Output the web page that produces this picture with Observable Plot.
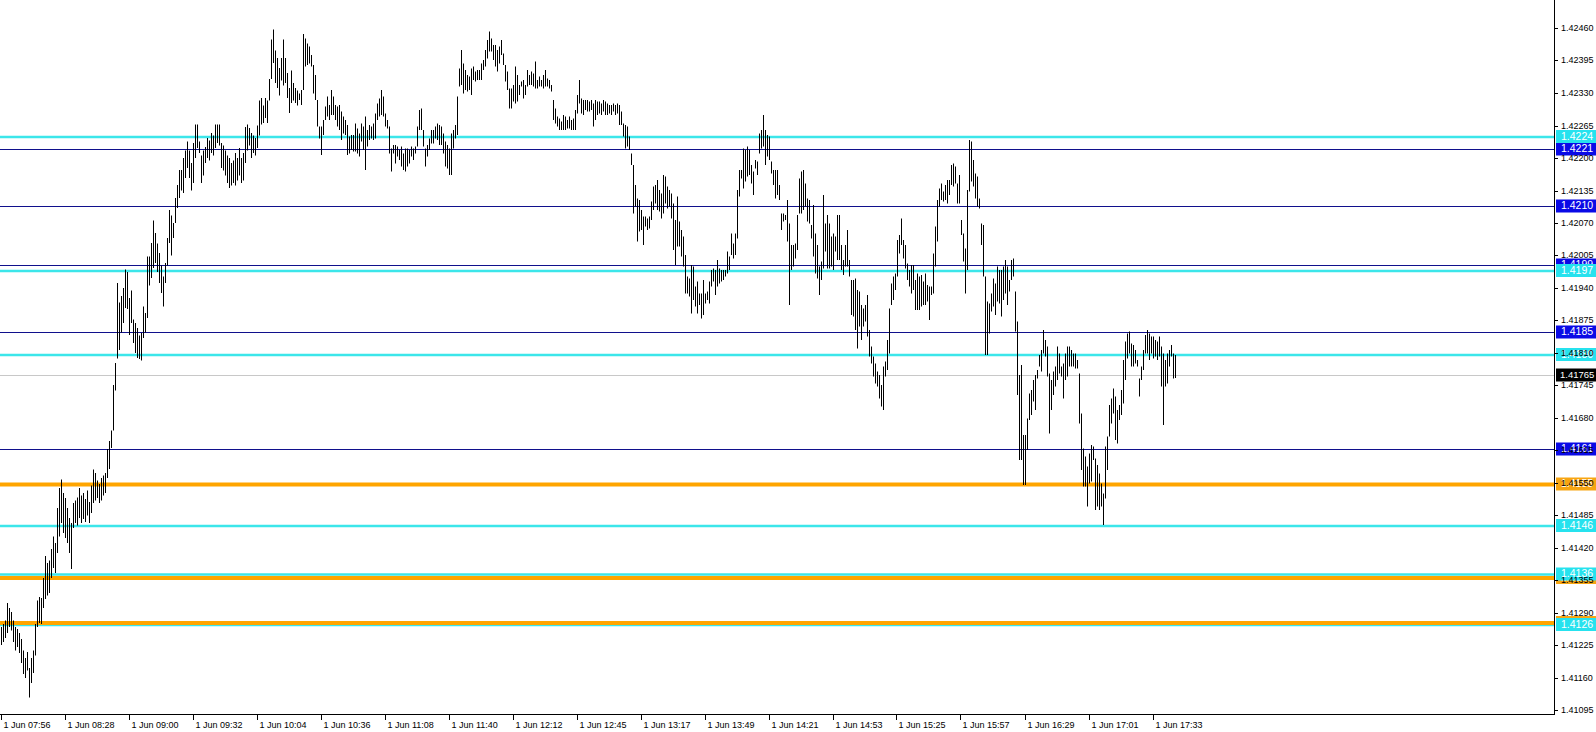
<!DOCTYPE html>
<html><head><meta charset="utf-8">
<script src="https://cdn.jsdelivr.net/npm/d3@7"></script>
<script src="https://cdn.jsdelivr.net/npm/@observablehq/plot@0.6"></script>
<style>html,body{margin:0;padding:0;background:#fff;overflow:hidden}</style>
</head><body><div id="chart"></div>
<script>
// 1-minute bars: low / high prices
const lows = [
1.41226,1.41232,1.41240,1.41250,1.41262,1.41255,1.41232,1.41215,1.41222,1.41210,
1.41190,1.41168,1.41160,1.41175,1.41121,1.41150,1.41170,1.41205,1.41262,1.41270,
1.41268,1.41300,1.41318,1.41325,1.41330,1.41360,1.41380,1.41370,1.41410,1.41443,
1.41470,1.41450,1.41440,1.41430,1.41410,1.41378,1.41460,1.41470,1.41465,1.41480,
1.41470,1.41478,1.41472,1.41485,1.41470,1.41490,1.41510,1.41515,1.41520,1.41510,
1.41515,1.41525,1.41530,1.41560,1.41578,1.41620,1.41655,1.41735,1.41799,1.41816,
1.41851,1.41870,1.41900,1.41898,1.41846,1.41870,1.41830,1.41810,1.41800,1.41798,
1.41795,1.41840,1.41851,1.41880,1.41945,1.41960,1.41980,1.41990,1.41972,1.41950,
1.41930,1.41903,1.41950,1.41985,1.42030,1.42005,1.42040,1.42070,1.42100,1.42120,
1.42135,1.42130,1.42160,1.42180,1.42160,1.42135,1.42150,1.42200,1.42220,1.42210,
1.42150,1.42165,1.42190,1.42200,1.42195,1.42210,1.42205,1.42220,1.42230,1.42225,
1.42180,1.42175,1.42165,1.42150,1.42140,1.42145,1.42150,1.42145,1.42155,1.42165,
1.42150,1.42155,1.42190,1.42215,1.42225,1.42200,1.42210,1.42205,1.42220,1.42245,
1.42267,1.42270,1.42280,1.42270,1.42315,1.42358,1.42390,1.42350,1.42340,1.42325,
1.42355,1.42345,1.42350,1.42320,1.42290,1.42310,1.42315,1.42310,1.42305,
1.42316,1.42306,1.42336,1.42383,1.42386,1.42389,1.42383,1.42329,1.42316,1.42263,
1.42239,1.42206,1.42246,1.42276,1.42283,1.42276,1.42286,1.42286,1.42276,1.42263,
1.42256,1.42236,1.42249,1.42246,1.42206,1.42209,1.42216,1.42213,1.42213,1.42209,
1.42203,1.42233,1.42216,1.42176,1.42223,1.42236,1.42239,1.42236,1.42239,1.42276,
1.42283,1.42286,1.42283,1.42263,1.42259,1.42209,1.42173,1.42209,1.42189,1.42203,
1.42196,1.42183,1.42176,1.42173,1.42183,1.42189,1.42203,1.42196,1.42209,1.42223,
1.42256,1.42256,1.42223,1.42183,1.42203,1.42216,1.42229,1.42229,1.42239,1.42236,
1.42226,1.42226,1.42209,1.42183,1.42179,1.42166,1.42166,1.42219,1.42239,1.42246,
1.42343,1.42346,1.42329,1.42336,1.42333,1.42336,1.42326,1.42356,1.42353,1.42356,
1.42356,1.42356,1.42376,1.42383,1.42399,1.42413,1.42413,1.42396,1.42383,1.42373,
1.42389,1.42406,1.42386,1.42353,1.42336,1.42299,1.42299,1.42313,1.42309,1.42313,
1.42326,1.42343,1.42319,1.42326,1.42343,1.42346,1.42346,1.42343,1.42339,1.42339,
1.42343,1.42343,1.42339,1.42343,1.42343,1.42339,1.42333,1.42276,1.42269,1.42263,
1.42256,1.42256,1.42256,1.42256,1.42259,1.42259,1.42256,1.42256,1.42256,1.42289,
1.42309,1.42289,1.42286,1.42296,1.42293,1.42293,1.42296,1.42263,1.42276,1.42286,
1.42289,1.42286,1.42293,1.42286,1.42286,1.42289,1.42286,1.42293,1.42286,1.42289,
1.42266,
1.42266,1.42243,1.42219,1.42223,1.42216,1.42186,1.42089,1.42103,1.42033,1.42053,
1.42056,1.42026,1.42063,1.42056,1.42059,1.42076,1.42096,1.42109,1.42096,1.42093,
1.42079,1.42089,1.42109,1.42099,1.42103,1.42079,1.42016,1.41986,1.42023,1.42023,
1.42003,1.41983,1.41929,1.41929,1.41923,1.41889,1.41916,1.41903,1.41889,1.41906,
1.41879,1.41886,1.41909,1.41916,1.41909,1.41943,1.41953,1.41926,1.41943,1.41949,
1.41953,1.41956,1.41963,1.41969,1.41976,1.42006,1.41999,1.42006,1.42039,1.42123,
1.42159,1.42139,1.42153,1.42163,1.42166,1.42149,1.42126,1.42179,1.42166,1.42209,
1.42219,1.42223,1.42186,1.42203,1.42196,1.42169,1.42146,1.42119,1.42126,1.42116,
1.42056,1.42073,1.42076,1.42033,1.41906,1.41976,1.41983,1.41999,1.42016,1.42089,
1.42089,1.42096,1.42103,1.42073,1.42069,1.42039,1.42003,1.41969,1.41959,1.41926,
1.41956,1.41979,1.42013,1.41979,1.41979,1.41983,1.41976,1.42013,1.41996,1.41996,
1.41976,1.41966,1.41983,1.41983,1.41963,1.41886,1.41883,1.41856,1.41819,1.41863,
1.41836,1.41863,1.41873,1.41843,1.41803,1.41789,1.41763,1.41749,1.41743,1.41719,
1.41703,1.41696,1.41763,1.41776,1.41809,1.41906,1.41916,1.41936,1.41963,1.42009,
1.42026,1.41999,1.41979,1.41956,1.41943,1.41929,1.41936,1.41896,1.41896,1.41896,
1.41903,1.41906,1.41906,1.41913,1.41876,1.41926,1.41929,1.41983,1.42033,1.42103,
1.42116,1.42113,1.42116,1.42109,1.42126,1.42146,1.42143,1.42149,1.42109,1.42109,
1.42046,1.41993,1.41929,1.41976,1.42133,1.42153,1.42143,1.42119,1.42103,1.42099,
1.42026,1.41963,1.41806,1.41806,1.41849,1.41893,1.41903,1.41886,1.41913,1.41909,
1.41883,1.41916,1.41929,1.41906,1.41933,1.41956,1.41963,1.41853,1.41726,1.41596,
1.41596,1.41546,1.41546,1.41616,1.41676,1.41686,1.41713,1.41696,1.41759,1.41783,
1.41773,1.41809,1.41803,1.41763,1.41649,1.41696,1.41726,1.41743,1.41756,1.41769,
1.41763,1.41719,1.41756,1.41763,1.41783,1.41783,1.41783,1.41779,1.41779,1.41669,
1.41576,1.41543,1.41543,1.41503,1.41549,1.41553,1.41596,1.41496,1.41503,1.41496,
1.41503,1.41466,1.41519,1.41576,1.41643,1.41669,1.41689,1.41636,1.41629,1.41676,
1.41686,1.41709,1.41756,1.41799,1.41809,1.41783,1.41783,1.41789,1.41783,1.41723,
1.41756,1.41776,1.41809,1.41809,1.41796,1.41809,1.41799,1.41803,1.41796,1.41803,
1.41743,1.41666,1.41743,1.41749,1.41783,1.41803,1.41759,1.41760
];
const highs = [
1.41262,1.41268,1.41275,1.41310,1.41300,1.41292,1.41275,1.41262,1.41258,1.41250,
1.41238,1.41215,1.41200,1.41212,1.41180,1.41200,1.41215,1.41268,1.41315,1.41322,
1.41320,1.41360,1.41404,1.41390,1.41395,1.41418,1.41443,1.41430,1.41500,1.41540,
1.41557,1.41530,1.41520,1.41500,1.41480,1.41470,1.41510,1.41515,1.41521,1.41540,
1.41525,1.41530,1.41518,1.41535,1.41512,1.41545,1.41577,1.41570,1.41555,1.41548,
1.41560,1.41565,1.41570,1.41618,1.41634,1.41655,1.41746,1.41790,1.41950,1.41911,
1.41924,1.41940,1.41977,1.41972,1.41920,1.41935,1.41877,1.41870,1.41860,1.41845,
1.41850,1.41903,1.41890,1.42003,1.42003,1.42030,1.42075,1.42050,1.42029,1.42010,
1.41985,1.41963,1.41990,1.42040,1.42096,1.42085,1.42070,1.42120,1.42146,1.42176,
1.42176,1.42200,1.42215,1.42233,1.42215,1.42190,1.42230,1.42267,1.42267,1.42233,
1.42205,1.42215,1.42222,1.42240,1.42235,1.42250,1.42245,1.42267,1.42267,1.42267,
1.42230,1.42225,1.42215,1.42205,1.42200,1.42190,1.42195,1.42210,1.42200,1.42220,
1.42200,1.42210,1.42262,1.42267,1.42260,1.42250,1.42245,1.42240,1.42265,1.42315,
1.42320,1.42305,1.42320,1.42315,1.42358,1.42437,1.42457,1.42415,1.42400,1.42380,
1.42400,1.42437,1.42400,1.42370,1.42340,1.42375,1.42350,1.42340,1.42335,
1.42329,1.42336,1.42448,1.42439,1.42429,1.42423,1.42406,1.42386,1.42366,1.42316,
1.42263,1.42263,1.42276,1.42303,1.42323,1.42306,1.42336,1.42323,1.42306,1.42303,
1.42306,1.42293,1.42283,1.42276,1.42266,1.42243,1.42246,1.42246,1.42269,1.42259,
1.42249,1.42269,1.42263,1.42283,1.42256,1.42266,1.42263,1.42269,1.42289,1.42309,
1.42319,1.42336,1.42323,1.42289,1.42276,1.42263,1.42219,1.42226,1.42226,1.42223,
1.42216,1.42223,1.42209,1.42219,1.42219,1.42216,1.42223,1.42219,1.42223,1.42263,
1.42296,1.42299,1.42256,1.42219,1.42226,1.42239,1.42256,1.42256,1.42263,1.42269,
1.42266,1.42263,1.42249,1.42233,1.42226,1.42219,1.42249,1.42256,1.42266,1.42323,
1.42379,1.42416,1.42389,1.42376,1.42366,1.42363,1.42379,1.42383,1.42373,1.42376,
1.42376,1.42389,1.42396,1.42416,1.42436,1.42453,1.42439,1.42426,1.42426,1.42416,
1.42423,1.42436,1.42409,1.42386,1.42373,1.42339,1.42339,1.42346,1.42383,1.42366,
1.42346,1.42353,1.42356,1.42346,1.42376,1.42366,1.42373,1.42369,1.42393,1.42356,
1.42363,1.42356,1.42366,1.42376,1.42359,1.42356,1.42346,1.42316,1.42299,1.42283,
1.42279,1.42273,1.42286,1.42283,1.42276,1.42283,1.42276,1.42279,1.42296,1.42326,
1.42356,1.42319,1.42316,1.42316,1.42316,1.42313,1.42316,1.42309,1.42316,1.42313,
1.42313,1.42309,1.42316,1.42313,1.42309,1.42306,1.42306,1.42309,1.42306,1.42309,
1.42306,
1.42293,1.42269,1.42266,1.42263,1.42243,1.42209,1.42186,1.42146,1.42119,1.42116,
1.42096,1.42083,1.42083,1.42079,1.42083,1.42113,1.42143,1.42146,1.42156,1.42136,
1.42129,1.42166,1.42163,1.42143,1.42136,1.42129,1.42109,1.42076,1.42123,1.42073,
1.42056,1.42043,1.42006,1.41963,1.41959,1.41986,1.41983,1.41943,1.41953,1.41929,
1.41929,1.41956,1.41929,1.41933,1.41953,1.41976,1.41979,1.41976,1.41996,1.41979,
1.41976,1.41976,1.41976,1.42013,1.42003,1.42049,1.42029,1.42049,1.42136,1.42176,
1.42176,1.42219,1.42216,1.42223,1.42216,1.42186,1.42173,1.42196,1.42193,1.42249,
1.42256,1.42286,1.42256,1.42246,1.42243,1.42193,1.42176,1.42176,1.42176,1.42146,
1.42089,1.42089,1.42086,1.42116,1.42069,1.42026,1.42026,1.42029,1.42086,1.42159,
1.42173,1.42176,1.42149,1.42119,1.42116,1.42066,1.42106,1.42049,1.42026,1.41983,
1.41993,1.42126,1.42069,1.42086,1.42069,1.42043,1.42049,1.42043,1.42086,1.42086,
1.42026,1.41996,1.42026,1.42056,1.41996,1.41956,1.41956,1.41959,1.41936,1.41933,
1.41906,1.41899,1.41906,1.41926,1.41856,1.41823,1.41803,1.41789,1.41773,1.41766,
1.41746,1.41783,1.41793,1.41836,1.41899,1.41949,1.41963,1.41969,1.42036,1.42046,
1.42079,1.42036,1.42026,1.41989,1.41976,1.41986,1.41986,1.41956,1.41969,1.41963,
1.41966,1.41953,1.41969,1.41946,1.41943,1.41943,1.42009,1.42063,1.42116,1.42139,
1.42149,1.42133,1.42146,1.42156,1.42156,1.42186,1.42189,1.42183,1.42149,1.42166,
1.42076,1.42049,1.42019,1.42136,1.42236,1.42233,1.42196,1.42169,1.42163,1.42119,
1.42069,1.42066,1.41963,1.41913,1.41909,1.41929,1.41959,1.41949,1.41983,1.41976,
1.41976,1.41983,1.41996,1.41983,1.41956,1.41996,1.41999,1.41933,1.41873,1.41766,
1.41786,1.41646,1.41646,1.41679,1.41729,1.41736,1.41756,1.41766,1.41776,1.41806,
1.41816,1.41856,1.41836,1.41823,1.41769,1.41756,1.41773,1.41783,1.41823,1.41809,
1.41783,1.41789,1.41809,1.41823,1.41823,1.41816,1.41809,1.41809,1.41796,1.41769,
1.41689,1.41619,1.41603,1.41583,1.41609,1.41626,1.41623,1.41599,1.41586,1.41569,
1.41549,1.41529,1.41623,1.41643,1.41706,1.41719,1.41739,1.41723,1.41696,1.41706,
1.41736,1.41796,1.41833,1.41849,1.41853,1.41829,1.41826,1.41816,1.41796,1.41759,
1.41783,1.41816,1.41846,1.41856,1.41849,1.41843,1.41843,1.41836,1.41833,1.41843,
1.41823,1.41809,1.41796,1.41809,1.41816,1.41826,1.41809,1.41806
];

// time axis labels (one every 32 bars)
const timeLabels = ["1 Jun 07:56","1 Jun 08:28","1 Jun 09:00","1 Jun 09:32","1 Jun 10:04","1 Jun 10:36",
  "1 Jun 11:08","1 Jun 11:40","1 Jun 12:12","1 Jun 12:45","1 Jun 13:17","1 Jun 13:49","1 Jun 14:21",
  "1 Jun 14:53","1 Jun 15:25","1 Jun 15:57","1 Jun 16:29","1 Jun 17:01","1 Jun 17:33"];
const timeLabelBars = [0,32,64,96,128,160,192,224,256,288,320,352,384,416,448,480,512,544,576];

// price axis ticks
const priceTicks = [1.42460,1.42395,1.42330,1.42265,1.42200,1.42135,1.42070,1.42005,1.41940,1.41875,
  1.41810,1.41745,1.41680,1.41615,1.41550,1.41485,1.41420,1.41355,1.41290,1.41225,1.41160,1.41095];

// horizontal levels
const levelPrices = [1.42243,1.42218,1.42104,1.41986,1.41975,1.41852,1.41807,1.41618,1.41548,1.41465,1.41368,1.41361,1.41271,1.41267];
const levelKinds  = ["cyan","blue","blue","blue","cyan","blue","cyan","blue","orange","cyan","cyan","orange","orange","cyan"];
const levelLabels = ["1.4224","1.4221","1.4210","1.4199","1.4197","1.4185","1.4180","1.4161","1.4155","1.4146","1.4136","1.4135","1.4127","1.4126"];

const currentPrice = 1.41766;
const currentLabel = "1.41765";

const bars = lows.map((lo, i) => ({i, low: lo, high: highs[i]}));
const levels = levelPrices.map((p, k) => ({price: p, kind: levelKinds[k], label: levelLabels[k]}));

const style = {
  blue:   {line: "#10108c", box: "#0a0ae6", width: 1},
  cyan:   {line: "#3ce6ea", box: "#26e2ee", width: 2.6},
  orange: {line: "#ffa500", box: "#f7a512", width: 4}
};

const FONT = "'Liberation Sans', Arial, sans-serif";

function decor(index, scales, values, dim) {
  const {x, y} = scales;
  const ns = "http://www.w3.org/2000/svg";
  const el = (tag, attrs, parent) => {
    const e = document.createElementNS(ns, tag);
    for (const k in attrs) e.setAttribute(k, attrs[k]);
    if (parent) parent.appendChild(e);
    return e;
  };
  const g = el("g", {"font-family": FONT, "text-anchor": "start"});
  const right = dim.width - dim.marginRight;
  const bottom = dim.height - dim.marginBottom;

  // frame (right and bottom)
  el("line", {x1: right + 0.5, x2: right + 0.5, y1: dim.marginTop, y2: bottom + 1, stroke: "#000"}, g);
  el("line", {x1: dim.marginLeft, x2: right + 1, y1: bottom + 0.5, y2: bottom + 0.5, stroke: "#000"}, g);

  const txt = (attrs, s) => {
    const t = el("text", Object.assign({"text-anchor": "start", "dominant-baseline": "middle"}, attrs), g);
    t.textContent = s;
    return t;
  };

  // time axis
  timeLabelBars.forEach((b, k) => {
    const px = Math.floor(x(b)) + 0.5;
    el("line", {x1: px, x2: px, y1: bottom, y2: bottom + 6, stroke: "#000"}, g);
    txt({x: px + 2, y: bottom + 11.5, "font-size": 9, fill: "#000"}, timeLabels[k]);
  });

  const box = (d, fill, fs) => {
    const cy = y(d.price);
    el("rect", {x: right + 2, y: cy - 6.5, width: dim.width - right - 2, height: 13, fill}, g);
    txt({x: right + 7, y: cy + 0.5, "font-size": fs, fill: "#fff"}, d.label);
  };
  // level boxes
  levels.filter(d => d.kind === "blue").forEach(d => box(d, style.blue.box, 10.5));
  levels.filter(d => d.kind === "orange").forEach(d => box(d, style.orange.box, 10.5));
  levels.filter(d => d.kind === "cyan").forEach(d => box(d, style.cyan.box, 10.5));

  // price axis
  priceTicks.forEach(p => {
    const py = Math.round(y(p)) + 0.5;
    el("line", {x1: right + 1, x2: right + 4, y1: py, y2: py, stroke: "#000"}, g);
    txt({x: right + 7, y: py, "font-size": 9, fill: "#000"}, p.toFixed(5));
  });

  // current price box
  const cy = y(currentPrice);
  el("rect", {x: right + 2, y: cy - 6.5, width: dim.width - right - 2, height: 13, fill: "#000"}, g);
  txt({x: right + 6, y: cy + 0.5, "font-size": 9.5, fill: "#fff"}, currentLabel);
  return g;
}

const chart = Plot.plot({
  width: 1596,
  height: 732,
  marginLeft: 0,
  marginRight: 42,
  marginTop: 0,
  marginBottom: 18,
  x: {domain: [-0.5, 776.5], axis: null},
  y: {domain: [1.41088, 1.42516], axis: null},
  style: {background: "#fff", fontFamily: FONT},
  marks: [
    Plot.ruleY([currentPrice], {stroke: "#c8c8c8", strokeWidth: 1}),
    Plot.ruleY(levels.filter(d => d.kind === "blue"), {y: "price", stroke: style.blue.line, strokeWidth: style.blue.width}),
    Plot.ruleY(levels.filter(d => d.kind === "cyan"), {y: "price", stroke: style.cyan.line, strokeWidth: style.cyan.width}),
    Plot.ruleY(levels.filter(d => d.kind === "orange"), {y: "price", stroke: style.orange.line, strokeWidth: style.orange.width}),
    Plot.ruleX(bars, {x: "i", y1: "low", y2: "high", stroke: "#000", strokeWidth: 1}),
    decor
  ]
});
document.getElementById("chart").appendChild(chart);
</script>
</body></html>
